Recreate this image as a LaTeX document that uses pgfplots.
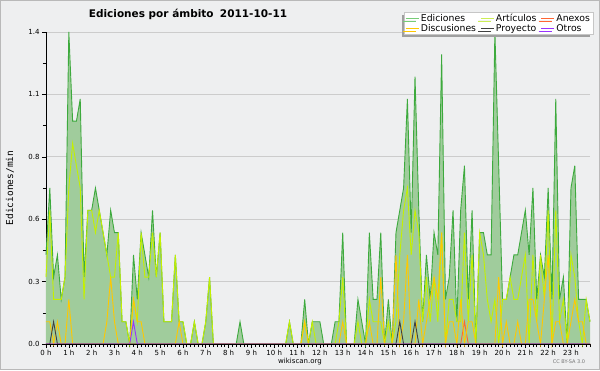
\documentclass[border=0pt]{standalone}
\usepackage{fontspec}
\setmainfont{DejaVu Sans}
\newfontfamily\monofont{DejaVu Sans Mono}
\usepackage{pgfplots}
\usepackage{pgfplotstable}
\pgfplotsset{compat=1.18}
\usetikzlibrary{shadows}
\definecolor{bg}{HTML}{EEEFF0}
\definecolor{edline}{HTML}{3DAA3D}
\definecolor{edfill}{HTML}{A0CC9C}
\definecolor{edleg}{HTML}{77CC77}
\definecolor{artc}{HTML}{C4F000}
\definecolor{artleg}{HTML}{CCEE55}
\definecolor{anxc}{HTML}{FF6633}
\definecolor{discc}{HTML}{FFC800}
\definecolor{proyc}{HTML}{404040}
\definecolor{otrc}{HTML}{9933FF}
\definecolor{gridc}{HTML}{CCCCCC}

\pgfplotstableread{
k ed art anx disc proy otr
0 0.4 0.3 0 0.1 0 0
1 0.7 0.6 0 0.1 0 0
2 0.3 0.2 0 0 0.1 0
3 0.4 0.2 0 0.1 0 0
4 0.2 0.2 0 0 0 0
5 0.3 0.3 0 0 0 0
6 1.4 0.7 0 0.2 0 0
7 1.0 0.9 0 0 0 0
8 1.0 0.8 0 0 0 0
9 1.1 0.7 0 0 0 0
10 0.3 0.2 0 0 0 0
11 0.6 0.6 0 0 0 0
12 0.6 0.6 0 0 0 0
13 0.7 0.5 0 0 0 0
14 0.6 0.6 0 0 0 0
15 0.5 0.5 0 0 0 0
16 0.4 0.4 0 0.1 0 0
17 0.6 0.3 0 0.3 0 0
18 0.5 0.3 0 0.1 0 0
19 0.5 0.5 0 0 0 0
20 0.1 0.1 0 0 0 0
21 0.1 0.1 0 0 0 0
22 0 0 0 0 0 0
23 0.4 0.2 0 0.2 0 0.1
24 0.2 0.1 0 0.1 0 0
25 0.5 0.5 0 0.1 0 0
26 0.4 0.3 0 0 0 0
27 0.3 0.3 0 0 0 0
28 0.6 0.5 0 0 0 0
29 0.3 0.3 0 0 0 0
30 0.5 0.5 0 0 0 0
31 0.1 0.1 0 0 0 0
32 0.1 0.1 0 0 0 0
33 0.1 0.1 0 0 0 0
34 0.4 0.4 0 0 0 0
35 0.1 0.1 0 0.1 0 0
36 0.1 0.1 0 0 0 0
37 0 0 0 0 0 0
38 0 0 0 0 0 0
39 0.1 0.1 0 0 0 0
40 0 0 0 0 0 0
41 0 0 0 0 0 0
42 0.1 0.1 0 0 0 0
43 0.3 0.3 0 0 0 0
44 0 0 0 0 0 0
45 0 0 0 0 0 0
46 0 0 0 0 0 0
47 0 0 0 0 0 0
48 0 0 0 0 0 0
49 0 0 0 0 0 0
50 0 0 0 0 0 0
51 0.1 0 0 0 0 0
52 0 0 0 0 0 0
53 0 0 0 0 0 0
54 0 0 0 0 0 0
55 0 0 0 0 0 0
56 0 0 0 0 0 0
57 0 0 0 0 0 0
58 0 0 0 0 0 0
59 0 0 0 0 0 0
60 0 0 0 0 0 0
61 0 0 0 0 0 0
62 0 0 0 0 0 0
63 0 0 0 0 0 0
64 0.1 0.1 0 0 0 0
65 0 0 0 0 0 0
66 0 0 0 0 0 0
67 0 0 0 0 0 0
68 0.2 0.1 0 0.1 0 0
69 0 0 0 0 0 0
70 0.1 0.1 0 0 0 0
71 0.1 0 0 0 0 0
72 0.1 0 0 0 0 0
73 0 0 0 0 0 0
74 0 0 0 0 0 0
75 0 0 0 0 0 0
76 0.1 0 0 0 0 0
77 0.1 0.1 0 0 0 0
78 0.5 0.3 0 0.1 0 0
79 0 0 0 0 0 0
80 0 0 0 0 0 0
81 0 0 0 0 0 0
82 0.2 0.1 0 0 0 0
83 0.1 0 0 0 0 0
84 0 0 0 0 0 0
85 0.5 0.2 0 0.1 0 0
86 0.2 0.1 0 0 0 0
87 0.2 0.1 0 0 0 0
88 0.5 0.1 0 0.3 0 0
89 0 0 0 0 0 0
90 0.2 0.1 0 0 0 0
91 0 0 0 0 0 0
92 0.5 0.1 0 0.4 0 0
93 0.6 0.4 0 0 0.1 0
94 0.7 0.6 0 0.1 0 0
95 1.1 0.7 0 0.4 0 0
96 0.5 0.4 0 0 0 0
97 1.2 0.6 0 0 0.1 0
98 0.6 0.5 0 0.2 0 0
99 0.1 0.1 0 0 0 0
100 0.4 0.3 0 0.1 0 0
101 0.2 0.1 0 0.2 0 0
102 0.5 0.3 0 0.3 0 0
103 0.4 0.1 0 0.2 0 0
104 1.3 0.5 0 0.5 0 0
105 0.2 0 0 0 0 0
106 0.3 0.2 0 0.1 0 0
107 0.6 0.2 0 0.1 0 0
108 0.1 0.1 0 0 0 0
109 0.6 0.1 0 0.2 0 0
110 0.8 0.5 0.1 0 0 0
111 0.2 0.1 0 0.1 0 0
112 0.6 0.4 0 0.1 0 0
113 0 0 0 0 0 0
114 0.5 0.5 0 0 0 0
115 0.5 0.4 0 0 0 0
116 0.4 0.2 0 0 0 0
117 0.4 0.1 0 0 0 0
118 1.4 0.2 0 0 0 0
119 0.8 0 0 0.3 0 0
120 0.2 0.2 0 0 0 0
121 0.2 0.2 0 0.1 0 0
122 0.3 0.3 0 0 0 0
123 0.4 0.2 0 0 0 0
124 0.4 0.2 0 0.1 0 0
125 0.5 0.3 0 0 0 0
126 0.6 0.4 0 0 0 0
127 0.4 0 0 0.2 0 0
128 0.7 0.4 0 0.2 0 0
129 0.2 0.1 0 0.1 0 0
130 0.4 0.4 0 0 0 0
131 0.3 0.2 0 0.2 0 0
132 0.7 0.6 0 0.4 0 0
133 0.2 0 0 0 0 0
134 1.1 0.6 0 0.1 0 0
135 0.2 0.1 0 0.1 0 0
136 0.3 0.2 0 0 0 0
137 0 0 0 0 0 0
138 0.7 0.4 0 0.1 0 0
139 0.8 0.3 0 0.2 0 0
140 0.2 0.1 0 0.1 0 0
141 0.2 0 0 0.1 0 0
142 0.2 0.2 0 0 0 0
143 0.1 0.1 0 0 0 0
}\datatable

\begin{document}
\begin{tikzpicture}
\fill[bg] (-46pt,-26pt) rectangle (554pt,344pt);
\draw[gray!55, line width=1.5pt] (-45.25pt,-25.25pt) rectangle (553.25pt,343.25pt);
\begin{axis}[
  at={(0pt,0pt)}, anchor=south west,
  scale only axis, width=544pt, height=312pt,
  xmin=0, xmax=143, ymin=0, ymax=1.4,
  axis x line*=bottom, axis y line*=left,
  axis line style={black, line width=0.8pt, -},
  xtick={0,6,...,138},
  xticklabels={0 h,1 h,2 h,3 h,4 h,5 h,6 h,7 h,8 h,9 h,10 h,11 h,12 h,13 h,14 h,15 h,16 h,17 h,18 h,19 h,20 h,21 h,22 h,23 h},
  minor xtick={0,...,143},
  ytick={0,0.28,0.56,0.84,1.12,1.4},
  yticklabels={0.0,0.3,0.6,0.8,1.1,1.4},
  minor ytick={0.14,0.42,0.70,0.98,1.26},
  tick align=outside,
  major tick length=4pt, minor tick length=3pt,
  tick style={black, line width=0.6pt},
  ymajorgrids, grid style={gridc, line width=0.7pt},
  tick label style={font=\fontsize{7}{8}\selectfont},
  xticklabel style={yshift=1pt},
  yticklabel style={xshift=1pt},
  clip=false,
  legend columns=3,
  legend cell align=left,
  legend style={at={(rel axis cs:1.0055,1.0635)}, anchor=north east,
    font=\fontsize{9.3}{9.3}\selectfont, draw=gray!45, fill=white,
    inner sep=1pt, row sep=0.4pt,
    nodes={inner ysep=0.6pt, inner xsep=1.8pt},
    drop shadow={shadow xshift=-2.5pt, shadow yshift=-2.5pt, fill=gray!75, opacity=1},
    /tikz/every even column/.append style={column sep=2.5pt}},
  legend image code/.code={\draw[#1, line width=0.8pt] (0pt,0pt) -- (13pt,0pt);},
]
\addplot[fill=edfill, draw=none, forget plot] table[x=k, y=ed] {\datatable} \closedcycle;
\addplot[edline, line width=0.9pt, legend image post style={edleg}] table[x=k, y=ed] {\datatable};
\addlegendentry{Ediciones}
\addplot[artc, line width=0.9pt, legend image post style={artleg}] table[x=k, y=art] {\datatable};
\addlegendentry{Artículos}
\addplot[anxc, line width=0.9pt] table[x=k, y=anx] {\datatable};
\addlegendentry{Anexos}
\addplot[discc, line width=0.9pt] table[x=k, y=disc] {\datatable};
\addlegendentry{Discusiones}
\addplot[proyc, line width=0.9pt] table[x=k, y=proy] {\datatable};
\addlegendentry{Proyecto}
\addplot[otrc, line width=0.9pt] table[x=k, y=otr] {\datatable};
\addlegendentry{Otros}
\draw[black, line width=1pt] (rel axis cs:0,0) -- (rel axis cs:1,0);
\end{axis}
\node[font=\bfseries\fontsize{10.5}{12}\selectfont] at (142pt,330pt) {Ediciones por ámbito\hspace{0.6em}2011-10-11};
\node[rotate=90, font=\monofont\fontsize{9.5}{10}\selectfont] at (-36pt,156pt) {Ediciones/min};
\node[font=\fontsize{7}{8}\selectfont] at (254pt,-17.5pt) {wikiscan.org};
\node[font=\fontsize{5}{6}\selectfont, gray!90!black] at (523pt,-18pt) {CC BY-SA 3.0};
\end{tikzpicture}
\end{document}
